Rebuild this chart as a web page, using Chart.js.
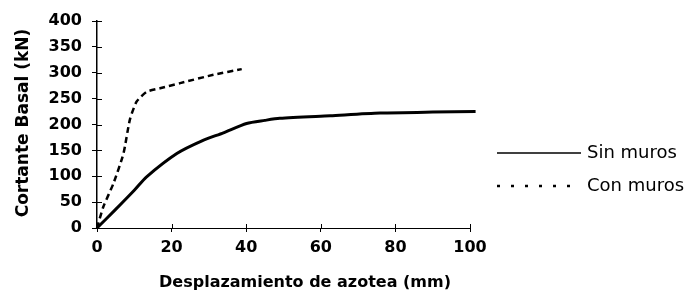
<!DOCTYPE html>
<html>
<head>
<meta charset="utf-8">
<script src="https://cdn.jsdelivr.net/npm/chart.js@4"></script>
<style>
  html, body { margin: 0; padding: 0; background: #fff; }
  #wrap { width: 690px; height: 305px; position: relative; }
</style>
</head>
<body>
<div id="wrap"><canvas id="chart"></canvas></div>
<script>
// displacement (mm) vs base shear (kN)
const sinMurosX = [0, 5, 10, 13.3, 21.4, 28, 33.9, 40.1, 45, 49, 62.5, 75.9, 90, 101.5];
const sinMurosY = [0, 36, 73, 99, 144, 168, 184, 202, 208, 212, 217, 222, 224, 225];
const conMurosX = [0, 1.7, 4.4, 7.1, 8.8, 10.6, 13.3, 16.9, 22.3, 31.2, 38.8];
const conMurosY = [0, 41, 86, 144, 209, 244, 263, 270, 280, 296, 307];
const seriesNames = ['Sin muros', 'Con muros'];
const xTitle = 'Desplazamiento de azotea (mm)';
const yTitle = 'Cortante Basal (kN)';

const FONT = '"DejaVu Sans", Verdana, sans-serif';

const toPoints = (xs, ys) => xs.map((x, i) => ({ x, y: ys[i] }));

// inner half of the tick marks (the axis ticks cross the axis line)
const innerTicks = {
  id: 'innerTicks',
  afterDatasetsDraw(chart) {
    const { ctx, scales: { x, y } } = chart;
    ctx.save();
    ctx.strokeStyle = '#000';
    ctx.lineWidth = 1;
    ctx.beginPath();
    y.ticks.forEach((t) => {
      const py = Math.round(y.getPixelForValue(t.value)) + 0.5;
      ctx.moveTo(y.right, py);
      ctx.lineTo(y.right + 5, py);
    });
    x.ticks.forEach((t) => {
      const px = Math.round(x.getPixelForValue(t.value)) + 0.5;
      ctx.moveTo(px, x.top);
      ctx.lineTo(px, x.top - 4);
    });
    ctx.stroke();
    ctx.restore();
  },
};

// axis titles and legend placed where the original figure has them
const annotations = {
  id: 'annotations',
  afterDraw(chart) {
    const { ctx } = chart;
    ctx.save();
    ctx.fillStyle = '#000';
    ctx.textAlign = 'center';
    ctx.textBaseline = 'middle';
    ctx.font = 'bold 16px ' + FONT;
    ctx.fillText(xTitle, 305, 283);
    ctx.font = 'bold 17px ' + FONT;
    ctx.translate(24, 123);
    ctx.rotate(-Math.PI / 2);
    ctx.fillText(yTitle, 0, 0);
    ctx.restore();

    ctx.save();
    ctx.strokeStyle = '#000';
    ctx.fillStyle = '#000';
    ctx.font = '18px ' + FONT;
    ctx.textAlign = 'left';
    ctx.textBaseline = 'middle';
    const rows = [153, 186];
    chart.data.datasets.forEach((ds, i) => {
      const yy = rows[i];
      ctx.lineWidth = i === 0 ? 1.5 : 2.5;
      ctx.setLineDash(i === 0 ? [] : [3, 11]);
      ctx.beginPath();
      ctx.moveTo(497, yy);
      ctx.lineTo(581, yy);
      ctx.stroke();
      ctx.fillText(ds.label, 587, yy);
    });
    ctx.restore();
  },
};

new Chart(document.getElementById('chart'), {
  type: 'scatter',
  data: {
    datasets: [
      {
        label: seriesNames[0],
        data: toPoints(sinMurosX, sinMurosY),
        showLine: true,
        borderColor: '#000',
        borderWidth: 3,
        pointRadius: 0,
        tension: 0.25,
        clip: false,
      },
      {
        label: seriesNames[1],
        data: toPoints(conMurosX, conMurosY),
        showLine: true,
        borderColor: '#000',
        borderWidth: 2.5,
        borderDash: [6, 4],
        pointRadius: 0,
        tension: 0.2,
        clip: false,
      },
    ],
  },
  options: {
    responsive: true,
    maintainAspectRatio: false,
    animation: false,
    layout: { padding: { top: 21, right: 220, bottom: 0, left: 0 } },
    plugins: { legend: { display: false }, tooltip: { enabled: false } },
    scales: {
      x: {
        type: 'linear',
        min: 0,
        max: 100,
        afterFit: (s) => { s.height = 77; },
        ticks: { stepSize: 20, color: '#000', padding: 6, font: { family: FONT, size: 16, weight: 'bold' } },
        grid: { drawOnChartArea: false, color: '#000', tickLength: 4 },
        border: { color: '#000', width: 1 },
      },
      y: {
        min: 0,
        max: 400,
        afterFit: (s) => { s.width = 97; },
        ticks: { stepSize: 50, color: '#000', padding: 10, font: { family: FONT, size: 16, weight: 'bold' } },
        grid: { drawOnChartArea: false, color: '#000', tickLength: 5 },
        border: { color: '#000', width: 1.5 },
      },
    },
  },
  plugins: [innerTicks, annotations],
});
</script>
</body>
</html>
